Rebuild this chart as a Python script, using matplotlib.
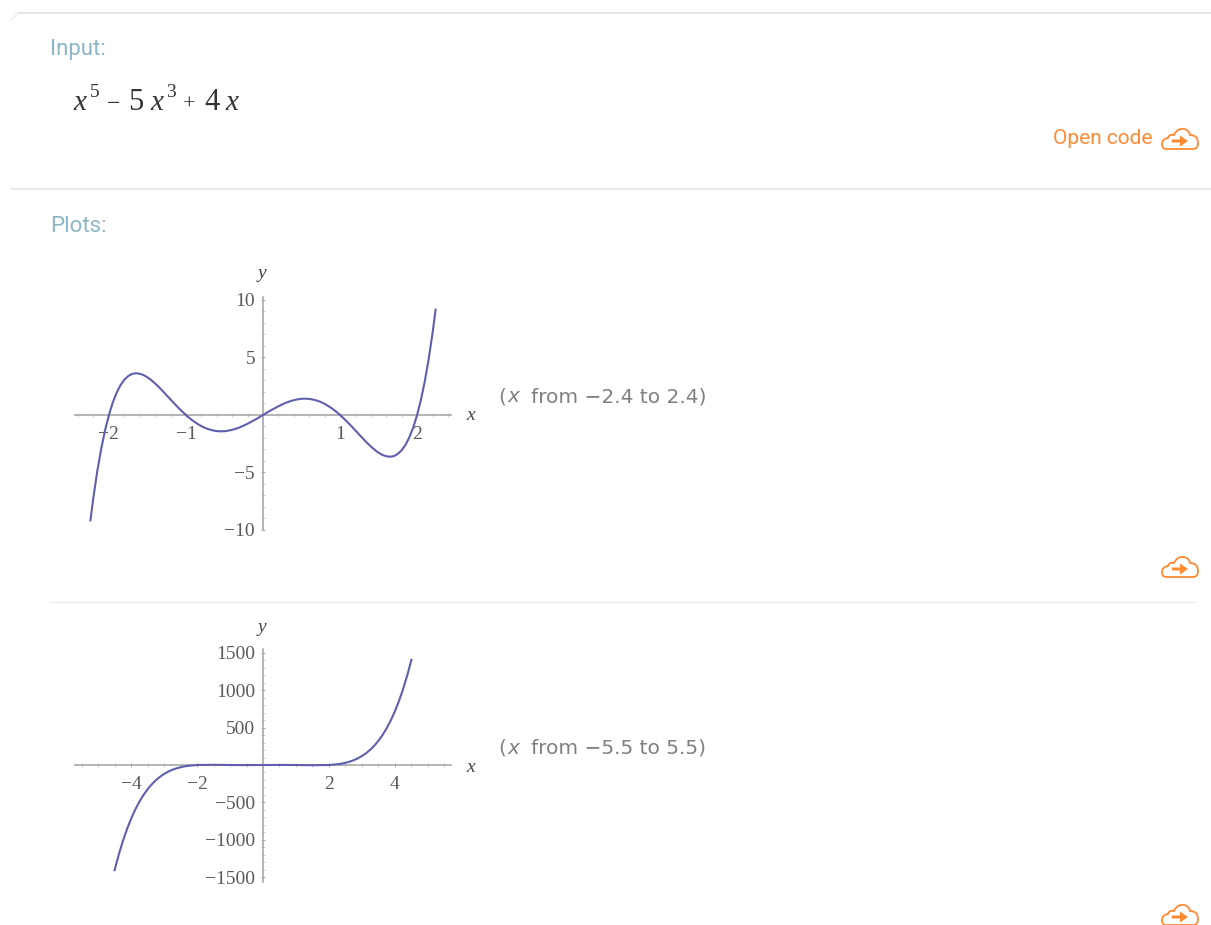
import matplotlib
matplotlib.use("Agg")
import matplotlib.pyplot as plt
from matplotlib.path import Path
from matplotlib.patches import PathPatch, Polygon
from matplotlib.ticker import FixedLocator

W, H = 1211, 925

# curve values
x1 = [-2.24, -2.2, -2.15, -2.1, -2.05, -2.0, -1.95, -1.9, -1.85, -1.8, -1.75, -1.7, -1.65, -1.6, -1.55, -1.5,
      -1.45, -1.4, -1.35, -1.3, -1.25, -1.2, -1.15, -1.1, -1.05, -1.0, -0.95, -0.9, -0.85, -0.8, -0.75, -0.7,
      -0.65, -0.6, -0.55, -0.5, -0.45, -0.4, -0.35, -0.3, -0.25, -0.2, -0.15, -0.1, -0.05, 0.0,
      0.05, 0.1, 0.15, 0.2, 0.25, 0.3, 0.35, 0.4, 0.45, 0.5, 0.55, 0.6, 0.65, 0.7, 0.75, 0.8, 0.85, 0.9, 0.95, 1.0,
      1.05, 1.1, 1.15, 1.2, 1.25, 1.3, 1.35, 1.4, 1.45, 1.5, 1.55, 1.6, 1.65, 1.7, 1.75, 1.8, 1.85, 1.9, 1.95, 2.0,
      2.05, 2.1, 2.15, 2.2, 2.24]
y1 = [-9.16, -7.10, -4.85, -2.94, -1.33, 0.0, 1.08, 1.93, 2.59, 3.06, 3.38, 3.57, 3.63, 3.59, 3.47, 3.28,
      3.03, 2.74, 2.42, 2.07, 1.71, 1.35, 0.99, 0.64, 0.31, 0.0, -0.29, -0.55, -0.77, -0.97, -1.13, -1.25,
      -1.34, -1.40, -1.42, -1.41, -1.36, -1.29, -1.19, -1.07, -0.92, -0.76, -0.58, -0.40, -0.20, 0.0,
      0.20, 0.40, 0.58, 0.76, 0.92, 1.07, 1.19, 1.29, 1.36, 1.41, 1.42, 1.40, 1.34, 1.25, 1.13, 0.97, 0.77, 0.55, 0.29, 0.0,
      -0.31, -0.64, -0.99, -1.35, -1.71, -2.07, -2.42, -2.74, -3.03, -3.28, -3.47, -3.59, -3.63, -3.57, -3.38, -3.06, -2.59, -1.93, -1.08, 0.0,
      1.33, 2.94, 4.85, 7.10, 9.16]

x2 = [-4.5, -4.375, -4.25, -4.125, -4.0, -3.875, -3.75, -3.625, -3.5, -3.375, -3.25, -3.125, -3.0, -2.875,
      -2.75, -2.625, -2.5, -2.375, -2.25, -2.0, -1.5, -1.0, -0.5, 0.0,
      0.5, 1.0, 1.5, 2.0, 2.25, 2.375, 2.5, 2.625, 2.75, 2.875, 3.0, 3.125, 3.25, 3.375, 3.5, 3.625, 3.75,
      3.875, 4.0, 4.125, 4.25, 4.375, 4.5]
y2 = [-1408, -1202, -1020, -860, -720, -598, -493, -402, -325, -259, -204, -158, -120, -89,
      -64, -45, -30, -18, -10, 0, 3, 0, -1, 0,
      1, 0, -3, 0, 10, 18, 30, 45, 64, 89, 120, 158, 204, 259, 325, 402, 493,
      598, 720, 860, 1020, 1202, 1408]

xticks1 = [-2, -1, 1, 2]
yticks1 = [-10, -5, 5, 10]
xticks2 = [-4, -2, 2, 4]
yticks2 = [-1500, -1000, -500, 500, 1000, 1500]

CURVE = "#5f5fae"
AXIS = "#a8a8a8"
LABEL = "#5a5a5a"
ORANGE = "#ff8a33"
TEAL = "#8db6c6"
SERIF = "Liberation Serif"

fig = plt.figure(figsize=(W / 100, H / 100), dpi=100, facecolor="white")

# overlay in pixel coordinates for the page furniture
page = fig.add_axes([0, 0, 1, 1])
page.set_xlim(0, W)
page.set_ylim(H, 0)
page.axis("off")


def cloud(cx, cy):
    pts = [(-14, 10), (-18, 10), (-18, 5), (-18, 0), (-12, -1), (-11, -5), (-6, -4), (-3, -11), (4, -10),
           (9, -9), (10, -4), (18, -4), (18, 4), (18, 10), (13, 10), (-14, 10)]
    codes = [Path.MOVETO] + [Path.CURVE3] * 14 + [Path.LINETO]
    path = Path([(cx + a, cy + b) for a, b in pts], codes)
    page.add_patch(PathPatch(path, fc="none", ec=ORANGE, lw=1.3))
    arrow = [(-8, 0.5), (0, 0.5), (0, -3.5), (8, 2), (0, 7.5), (0, 3.5), (-8, 3.5)]
    page.add_patch(Polygon([(cx + a, cy + b) for a, b in arrow], fc=ORANGE, ec="none"))


page.plot([18, 1211], [13, 13], color="#e2e2e2", lw=1.3)
page.plot([11, 18], [20, 13], color="#ececec", lw=1.0)
page.plot([11, 1211], [189, 189], color="#e2e6e8", lw=1.2)
page.plot([50, 1195], [602, 602], color="#e8eff0", lw=1.0)

page.text(50, 50, "Input:", fontsize=16, family="Roboto", color=TEAL, va="center")
page.text(50, 227, "Plots:", fontsize=16, family="Roboto", color=TEAL, va="center")
page.text(1053, 138, "Open code", fontsize=15, family="Roboto", color=ORANGE, va="center")
cloud(1180, 139)
cloud(1180, 567)
cloud(1180, 915)

# the input formula, piece by piece
for px, s, st, fs, base in [(73, "x", "italic", 21, 110), (90, "5", "normal", 14, 97),
                            (107, "\u2212", "normal", 17, 110), (128, "5", "normal", 22, 110),
                            (150, "x", "italic", 21, 110), (166, "3", "normal", 14, 97),
                            (183, "+", "normal", 16, 110), (204, "4", "normal", 22, 110),
                            (225, "x", "italic", 21, 110)]:
    page.text(px, base, s, family=SERIF, style=st, fontsize=fs, color="#333333", va="baseline", ha="left")


def make_plot(left, right, top, bottom, xlim, ylim, xs, ys, xt, yt, xminor, yminor):
    ax = fig.add_axes([left / W, 1 - bottom / H, (right - left) / W, (bottom - top) / H])
    ax.patch.set_alpha(0)
    ax.set_xlim(*xlim)
    ax.set_ylim(*ylim)
    for s in ["top", "right"]:
        ax.spines[s].set_visible(False)
    for s in ["left", "bottom"]:
        ax.spines[s].set_position("zero")
        ax.spines[s].set_color(AXIS)
        ax.spines[s].set_linewidth(1.2)
    ax.plot(xs, ys, color=CURVE, lw=1.5, zorder=5)
    ax.set_xticks(xt)
    ax.set_yticks(yt)
    ax.set_xticklabels([str(v).replace("-", "\u2212") for v in xt], family=SERIF, fontsize=14, color=LABEL)
    ax.set_yticklabels([str(v).replace("-", "\u2212") for v in yt], family=SERIF, fontsize=14, color=LABEL)
    ax.xaxis.set_minor_locator(FixedLocator(xminor))
    ax.yaxis.set_minor_locator(FixedLocator(yminor))
    ax.tick_params(which="major", direction="inout", length=3.5, width=0.7, color=AXIS)
    ax.tick_params(which="minor", direction="inout", length=2.2, width=0.6, color="#c4c4c4")
    ax.tick_params(axis="x", which="major", pad=6)
    ax.tick_params(axis="y", which="major", pad=4)
    return ax


make_plot(75, 451, 297, 530, (-2.44, 2.44), (-10.0, 10.26), x1, y1, xticks1, yticks1,
          [i * 0.2 for i in range(-12, 13) if i != 0], list(range(-10, 11)))
make_plot(75, 451, 649, 882, (-5.7, 5.7), (-1566, 1553), x2, y2, xticks2, yticks2,
          [i * 0.5 for i in range(-11, 12) if i != 0], [i * 100 for i in range(-15, 16) if i != 0])

for ax_y, ylab_y, label, note_y in [(416, 274, "from \u22122.4 to 2.4)", 397),
                                    (767, 627, "from \u22125.5 to 5.5)", 748)]:
    page.text(471, ax_y, "x", family=SERIF, style="italic", fontsize=14, color="#444444", ha="center", va="center")
    page.text(262, ylab_y, "y", family=SERIF, style="italic", fontsize=14, color="#444444", ha="center", va="center")
    page.text(498, note_y, "(", family="DejaVu Sans", fontsize=14.5, color="#808080", va="center")
    page.text(508, note_y, "x", family="DejaVu Sans", style="italic", fontsize=14.5, color="#808080", va="center")
    page.text(531, note_y, label, family="DejaVu Sans", fontsize=14.5, color="#808080", va="center")

fig.savefig("out.png", dpi=100)
